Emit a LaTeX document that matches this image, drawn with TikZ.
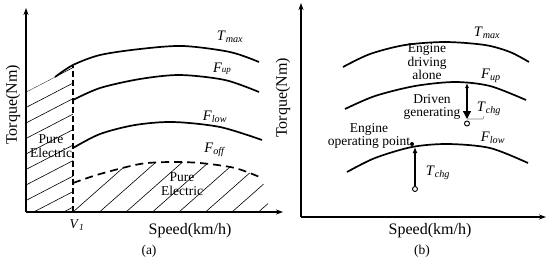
\documentclass[tikz,border=0pt]{standalone}
\usepackage{fontspec}
\setmainfont{Liberation Serif}
\usetikzlibrary{arrows.meta}

% italic letter with italic subscript
\newcommand{\curvelab}[2]{\textit{#1}\textsubscript{\textit{#2}}}

\tikzset{
  axis/.style={line width=1.1pt, -{Stealth[length=7pt,width=5pt]}},
  curve/.style={line width=1.7pt},
  hatch/.style={line width=0.6pt},
  lab/.style={font=\fontsize{13.5}{13.5}\selectfont, align=center, inner sep=0pt},
  clab/.style={font=\fontsize{14.5}{15}\selectfont, inner sep=0pt},
  axlab/.style={font=\fontsize{16}{17}\selectfont, inner sep=0pt},
  tag/.style={font=\fontsize{13.5}{14}\selectfont, inner sep=0pt}
}

\begin{document}
\begin{tikzpicture}[x=1pt, y=-1pt]
    \useasboundingbox (0,0) rectangle (550,258);

    % ---------------- panel (a) ----------------
    % hatching, left part (below V1)
    \begin{scope}
      \clip (26,212) -- (26,92) -- (55,77) .. controls (61,72) and (67,68) .. (73,65) -- (73,212) -- cycle;
      \foreach \k in {0,...,9}
        \draw[hatch] (26, 92 + 15.5*\k) -- (73, 67.6 + 15.5*\k);
    \end{scope}

    % hatching, right part (below F_off)
    \begin{scope}
      \clip (73,212) -- plot[smooth] coordinates {(73,183) (100,174) (140,164) (170,162) (200,163) (235,168) (262,178)} -- (270,212) -- cycle;
      \foreach \k in {0,...,7}
        \draw[hatch] (73 + 26.5*\k, 212) -- (133 + 26.5*\k, 159);
    \end{scope}

    % axes
    \draw[axis] (26,212) -- (26,8);
    \draw[axis] (26,212) -- (283,212);

    % curves
    \draw[curve] plot[smooth] coordinates {(55,77) (73,65) (100,55) (140,49) (183,46) (230,52) (259,62)};
    \draw[curve] plot[smooth] coordinates {(73,100) (100,88) (140,79) (180,75) (225,80) (259,92)};
    \draw[curve] plot[smooth] coordinates {(73,148) (100,134) (135,125) (173,122) (220,127) (262,140)};
    \draw[curve, dash pattern=on 8pt off 5pt] plot[smooth] coordinates {(73,183) (100,174) (140,164) (170,162) (200,163) (235,168) (262,178)};

    % V1 line
    \coordinate (vbot) at (73,212);
    \coordinate (vtop) at (73,66);
    \draw[line width=1.8pt, dash pattern=on 6pt off 3pt] (vbot) -- (vtop);

    % labels
    \node[clab] (tmaxa) at (230,37) {\curvelab{T}{max}};
    \node[clab] (fupa) at (222,69) {\textit{F}{\itshape\small up}};
    \node[clab] (flowa) at (215,117) {\curvelab{F}{low}};
    \node[clab] (foffa) at (215,150) {\curvelab{F}{off}};
    \node[lab] (pea) at (51,146) {Pure\\Electric};
    \node[lab] (peb) at (182,184) {Pure\\Electric};
    \node[lab] (vone) at (77,225) {\curvelab{V}{1}};
    \node[axlab, rotate=90] (torquea) at (13,105) {Torque(Nm)};
    \node[axlab] (speeda) at (190,231) {Speed(km/h)};
    \node[tag] (taga) at (149,251) {(a)};

    % ---------------- panel (b) ----------------
    % axes
    \draw[axis] (301,217) -- (301,3);
    \draw[axis] (301,217) -- (546,217);

    % curves
    \draw[curve] plot[smooth] coordinates {(343,67) (370,54) (405,45) (445,42) (485,45) (510,52) (529,62)};
    \draw[curve] plot[smooth] coordinates {(345,109) (375,96) (415,86) (455,82) (490,86) (526,100)};
    \draw[curve] plot[smooth] coordinates {(347,172) (375,158) (412,147) (448,144) (490,148) (528,163)};

    % labels
    \node[clab] (tmaxb) at (487,33) {\curvelab{T}{max}};
    \node[clab] (fupb) at (491,76) {\curvelab{F}{up}};
    \node[clab] (flowb) at (493,138) {\curvelab{F}{low}};
    \node[lab] (alone) at (427,62) {Engine\\driving\\alone};
    \node[lab] (gen) at (432,107) {Driven\\generating};
    \node[lab] (oppt) at (369,136) {Engine\\operating point};
    \node[clab] (tchgu) at (489,109) {\curvelab{T}{chg}};
    \node[clab] (tchgl) at (438,173) {\curvelab{T}{chg}};
    \node[axlab, rotate=90] (torqueb) at (283,98) {Torque(Nm)};
    \node[axlab] (speedb) at (430,231) {Speed(km/h)};
    \node[tag] (tagb) at (422,251) {(b)};

    % charge arrows
    \coordinate (uptop) at (467,83);
    \coordinate (upbot) at (467,119);
    \node[circle, draw, line width=0.9pt, inner sep=0pt, minimum size=5pt] (upring) at (467,123.5) {};
    \draw[line width=1.3pt, {Latex[length=5pt,width=4pt]}-{Triangle[length=8pt,width=8pt]}] (uptop) -- (upbot);
    \draw[gray, line width=0.6pt] (upbot) -- ++(16,0) -- ++(1,-3);

    \coordinate (lowtop) at (415,147);
    \node[circle, draw, line width=0.9pt, inner sep=0pt, minimum size=5pt] (lowring) at (415,189) {};
    \draw[line width=1.3pt, -{Latex[length=6pt,width=5pt]}] (lowring) -- (lowtop);
    \fill (412,144) circle (2pt);
\end{tikzpicture}
\end{document}
